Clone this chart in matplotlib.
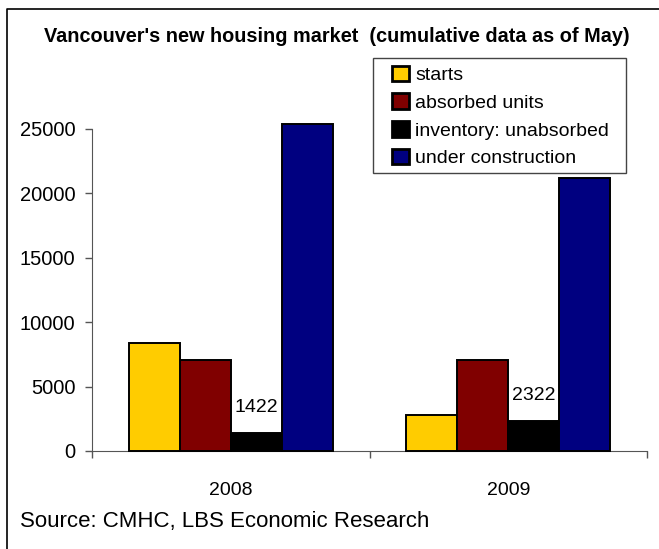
import matplotlib
matplotlib.use("Agg")
import matplotlib.pyplot as plt
import numpy as np
from matplotlib.lines import Line2D
from matplotlib.patches import Rectangle

plt.rcParams['font.family'] = ['Liberation Sans', 'DejaVu Sans']

years = ['2008', '2009']
series = ['starts', 'absorbed units', 'inventory: unabsorbed', 'under construction']
starts = [8400, 2800]
absorbed = [7100, 7100]
inventory = [1422, 2322]
construction = [25400, 21200]
colors = ['#FFCC00', '#800000', '#000000', '#000080']

W, H = 659, 549
fig = plt.figure(figsize=(W / 100, H / 100), dpi=100)
fig.patch.set_facecolor('white')

# frame lines along the top and left of the chart area
fig.lines.append(Line2D([7 / W, 7 / W, 1], [0, 1 - 9 / H, 1 - 9 / H], transform=fig.transFigure,
                        color='black', linewidth=1.2))

ax = fig.add_axes([92 / W, 98 / H, 555 / W, 322 / H])

x = np.arange(len(years)) + 0.5
w = 0.184
values = [starts, absorbed, inventory, construction]
for i, (name, vals) in enumerate(zip(series, values)):
    bars = ax.bar(x + (i - 1.5) * w, vals, w, color=colors[i], edgecolor='black',
                  linewidth=1.4, label=name, clip_on=False, zorder=3)
    if name.startswith('inventory'):
        for b, v in zip(bars, vals):
            ax.annotate(str(v), (b.get_x() + b.get_width() / 2, v), xytext=(0, 12),
                        textcoords='offset points', ha='center', va='bottom', fontsize=14)

ax.set_xlim(0, 2)
ax.set_ylim(0, 25000)
ax.set_yticks(np.arange(0, 25001, 5000))
ax.tick_params(axis='y', length=5, width=1, colors='#555555', labelcolor='black',
               labelsize=14.5, pad=7)
ax.set_xticks([0, 1, 2], minor=True)
ax.set_xticks(x)
ax.set_xticklabels(years)
ax.tick_params(axis='x', which='major', length=0, labelsize=14, pad=22)
ax.tick_params(axis='x', which='minor', length=5, width=1, colors='#555555')
for s in ['top', 'right']:
    ax.spines[s].set_visible(False)
ax.spines['left'].set_color('#555555')
ax.spines['bottom'].set_color('#555555')

# legend box drawn separately so the entries can sit with a wider left margin
fig.patches.append(Rectangle((373 / W, 1 - 173 / H), 253 / W, 115 / H, transform=fig.transFigure,
                             fill=True, facecolor='white', edgecolor='#444444', linewidth=1.0,
                             zorder=5))
handles, labels = ax.get_legend_handles_labels()
leg = fig.legend(handles, labels, loc='center left', bbox_to_anchor=(392 / W, 1 - 116.5 / H),
                 bbox_transform=fig.transFigure, fontsize=14, frameon=False,
                 borderpad=0, labelspacing=0.48, handlelength=0.85, handleheight=0.85,
                 handletextpad=0.33, borderaxespad=0)
leg.set_zorder(6)
for h in leg.legend_handles:
    h.set_linewidth(2)

fig.text(336.5 / W, 1 - 36 / H,
         "Vancouver's new housing market  (cumulative data as of May)",
         ha='center', va='center', fontsize=14.3, fontweight='bold')
fig.text(20 / W, 1 - 521 / H, 'Source: CMHC, LBS Economic Research',
         ha='left', va='center', fontsize=16)

fig.savefig('out.png', dpi=100)
